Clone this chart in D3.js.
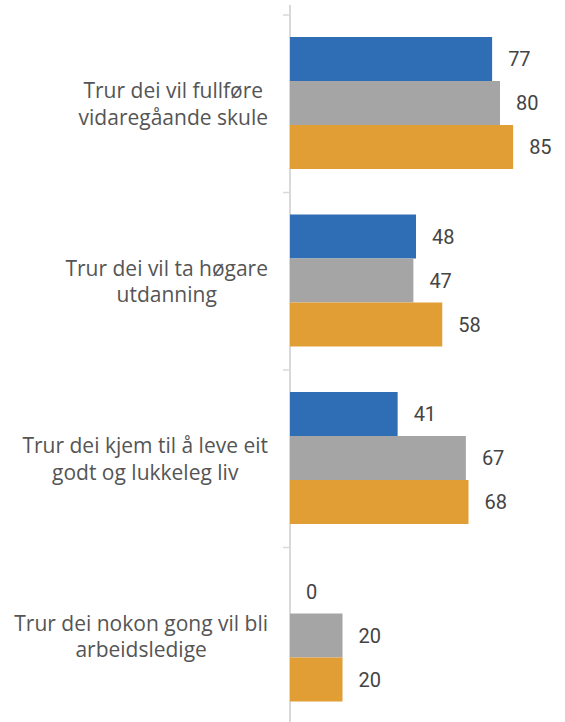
<!DOCTYPE html>
<html>
<head>
<meta charset="utf-8">
<script src="https://cdn.jsdelivr.net/npm/d3@7"></script>
<style>
  body { margin: 0; background: #fff; }
  text { font-family: Roboto, 'Noto Sans', sans-serif; }
  .cat { font-family: 'Open Sans', 'Noto Sans', sans-serif; }
</style>
</head>
<body>
<div id="chart"></div>
<script>
(function() {
  let width = 565,
  height = 722

  let categories = [
    ['Trur dei vil fullføre', 'vidaregåande skule'],
    ['Trur dei vil ta høgare', 'utdanning'],
    ['Trur dei kjem til å leve eit', 'godt og lukkeleg liv'],
    ['Trur dei nokon gong vil bli', 'arbeidsledige']
  ]
  let seriesNames = ['blue', 'grey', 'orange']
  let blueValues = [77, 48, 41, 0]
  let greyValues = [80, 47, 67, 20]
  let orangeValues = [85, 58, 68, 20]

  let color = d3.scaleOrdinal(seriesNames, ['#2F6DB5', '#A5A5A5', '#E09E35'])

  let svg = d3.select('#chart')
    .append('svg')
    .attr('width', width)
    .attr('height', height)

  let x = d3.scaleLinear().domain([0, 100]).range([290, 552.5])
  let y = d3.scaleBand().domain(d3.range(categories.length)).range([15, 725])
  let yInner = d3.scaleBand().domain(seriesNames).range([22, 154])

  let rows = []
  categories.forEach((c, i) => {
    rows.push({ cat: i, series: 'blue', value: blueValues[i] })
    rows.push({ cat: i, series: 'grey', value: greyValues[i] })
    rows.push({ cat: i, series: 'orange', value: orangeValues[i] })
  })

  // axis line with small ticks between categories
  let axis = svg.append('g')
    .attr('transform', 'translate(290,0)')
    .call(d3.axisLeft(y).tickSize(0).tickFormat(''))
  axis.select('.domain').remove()
  axis.append('line')
    .attr('y1', 5).attr('y2', height)
    .attr('stroke', '#d9d9d9').attr('stroke-width', 2)
  axis.selectAll('.sep')
    .data(y.domain())
    .enter()
    .append('line')
    .attr('x1', -7).attr('x2', 0)
    .attr('y1', (d) => y(d)).attr('y2', (d) => y(d))
    .attr('stroke', '#d9d9d9').attr('stroke-width', 1.5)

  svg.selectAll('.bar')
    .data(rows)
    .enter()
    .append('rect')
    .attr('class', 'bar')
    .attr('x', x(0))
    .attr('y', (d) => y(d.cat) + yInner(d.series))
    .attr('width', (d) => x(d.value) - x(0))
    .attr('height', yInner.bandwidth())
    .attr('fill', (d) => color(d.series))

  svg.selectAll('.val')
    .data(rows)
    .enter()
    .append('text')
    .attr('class', 'val')
    .attr('x', (d) => x(d.value) + 16)
    .attr('y', (d) => y(d.cat) + yInner(d.series) + yInner.bandwidth() / 2)
    .attr('dy', '0.36em')
    .attr('font-size', 20)
    .attr('fill', '#444')
    .text((d) => d.value)

  // category labels, lines centred within a block right-aligned at x=268
  categories.forEach((lines, i) => {
    let cy = y(i) + y.bandwidth() / 2
    let g = svg.append('g')
    let t = g.selectAll('text')
      .data(lines)
      .enter()
      .append('text')
      .attr('class', 'cat')
      .attr('y', (d, j) => cy - 13 + j * 26.5)
      .attr('dy', '0.36em')
      .attr('font-size', 21)
      .attr('fill', '#555')
      .attr('text-anchor', 'middle')
      .text((d) => d)
    let maxW = d3.max(t.nodes(), (n) => n.getComputedTextLength())
    t.attr('x', 268 - maxW / 2)
  })
})()
</script>
</body>
</html>
